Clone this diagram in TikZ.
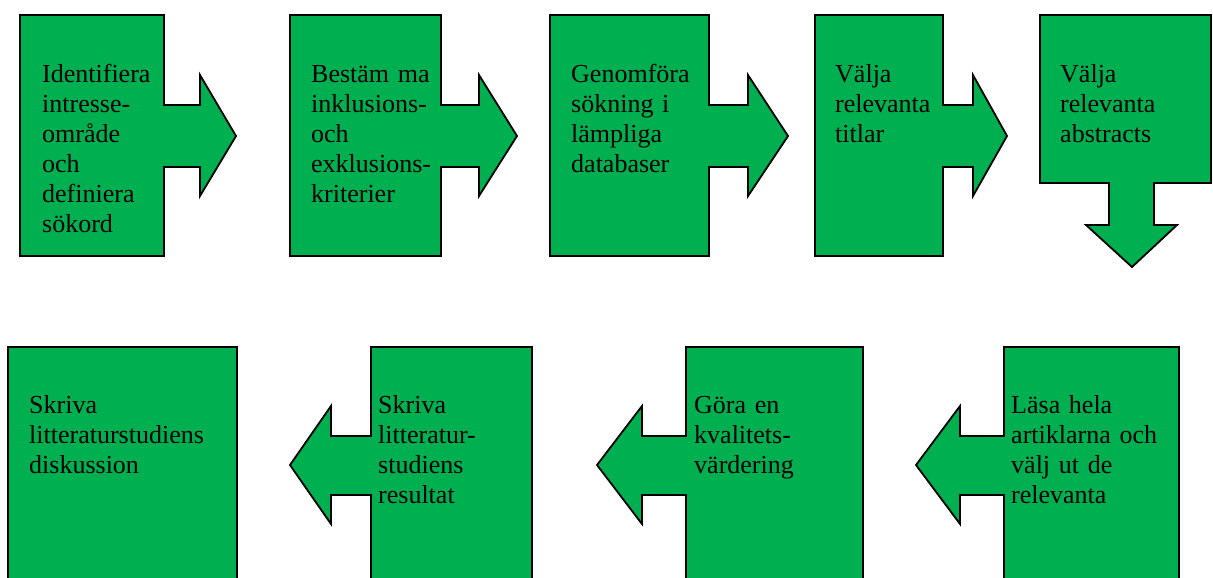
\documentclass[tikz,border=0pt]{standalone}
\usepackage{fontspec}
\setmainfont{Liberation Serif}
\definecolor{stepgreen}{HTML}{00B050}

\begin{document}
\begin{tikzpicture}[
  x=1pt, y=-1pt,
  callout/.style={draw=black, fill=stepgreen, line width=1.8pt, line join=miter},
  steptext/.style={anchor=base west, inner sep=0pt, text width=220pt, align=left,
                   font=\fontsize{26}{30}\selectfont},
]

% Page
\path[use as bounding box, clip] (0,0) rectangle (1213,578);

% Upper row: callouts pointing right
\draw[callout] (20,15) -- (164,15) -- (164,105) -- (200,105) -- (200,75) -- (236,136)
  -- (200,196) -- (200,167) -- (164,167) -- (164,256) -- (20,256) -- cycle;
\draw[callout] (290,15) -- (441,15) -- (441,105) -- (479,105) -- (479,75) -- (517,136)
  -- (479,196) -- (479,167) -- (441,167) -- (441,256) -- (290,256) -- cycle;
\draw[callout] (550,15) -- (709,15) -- (709,105) -- (748,105) -- (748,75) -- (788,136)
  -- (748,196) -- (748,167) -- (709,167) -- (709,256) -- (550,256) -- cycle;
\draw[callout] (815,15) -- (943,15) -- (943,105) -- (973,105) -- (973,75) -- (1007,136)
  -- (973,196) -- (973,167) -- (943,167) -- (943,256) -- (815,256) -- cycle;

% Last upper step turns down
\draw[callout] (1040,15) -- (1211,15) -- (1211,183) -- (1154,183) -- (1154,225) -- (1177,225)
  -- (1132,267) -- (1086,225) -- (1109,225) -- (1109,183) -- (1040,183) -- cycle;

% Lower row: callouts pointing left
\draw[callout] (1004,347) -- (1179,347) -- (1179,583) -- (1004,583) -- (1004,495) -- (960,495)
  -- (960,524) -- (916,465) -- (960,406) -- (960,436) -- (1004,436) -- cycle;
\draw[callout] (686,347) -- (863,347) -- (863,583) -- (686,583) -- (686,495) -- (642,495)
  -- (642,524) -- (597,465) -- (642,406) -- (642,436) -- (686,436) -- cycle;
\draw[callout] (371,347) -- (532,347) -- (532,583) -- (371,583) -- (371,495) -- (331,495)
  -- (331,524) -- (290,465) -- (331,406) -- (331,436) -- (371,436) -- cycle;

% Final box
\draw[callout] (8,347) rectangle (237,583);

% Step texts
\node[steptext] (identify) at (42,82) {Identifiera\\intresse-\\område\\och\\definiera\\sökord};
\node[steptext] (criteria) at (311,82) {Bestäm ma\\inklusions-\\och\\exklusions-\\kriterier};
\node[steptext] (search) at (571,82) {Genomföra\\sökning i\\lämpliga\\databaser};
\node[steptext] (titles) at (835,82) {Välja\\relevanta\\titlar};
\node[steptext] (abstracts) at (1060,82) {Välja\\relevanta\\abstracts};
\node[steptext] (articles) at (1011,413) {Läsa hela\\artiklarna och\\välj ut de\\relevanta};
\node[steptext] (quality) at (694,413) {Göra en\\kvalitets-\\värdering};
\node[steptext] (results) at (378,413) {Skriva\\litteratur-\\studiens\\resultat};
\node[steptext] (discussion) at (29,413) {Skriva\\litteraturstudiens\\diskussion};

\end{tikzpicture}
\end{document}
